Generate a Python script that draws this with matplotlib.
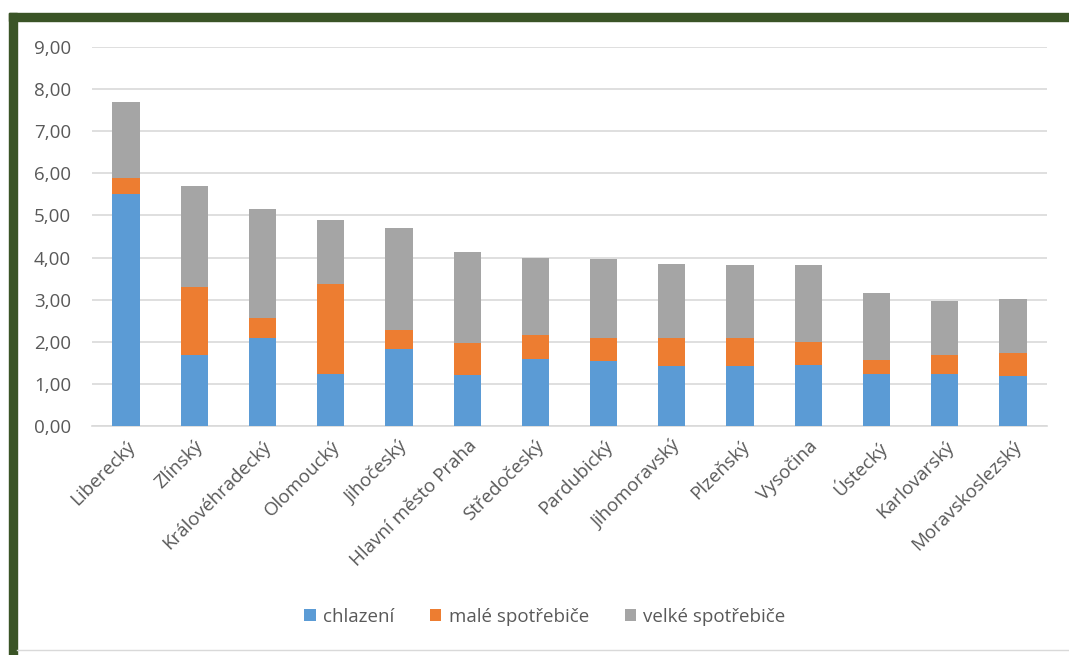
import numpy as np
import matplotlib
matplotlib.use("Agg")
import matplotlib.pyplot as plt
from matplotlib.patches import Rectangle
from matplotlib.ticker import FuncFormatter

# data
regions = ["Liberecký", "Zlínský", "Královéhradecký", "Olomoucký", "Jihočeský",
           "Hlavní město Praha", "Středočeský", "Pardubický", "Jihomoravský",
           "Plzeňský", "Vysočina", "Ústecký", "Karlovarský", "Moravskoslezský"]
chlazeni = [5.52, 1.68, 2.10, 1.24, 1.82, 1.20, 1.60, 1.54, 1.43, 1.43, 1.46, 1.24, 1.24, 1.19]
male = [0.36, 1.61, 0.47, 2.14, 0.45, 0.76, 0.55, 0.56, 0.67, 0.67, 0.53, 0.33, 0.44, 0.54]
velke = [1.81, 2.42, 2.59, 1.50, 2.44, 2.17, 1.83, 1.86, 1.75, 1.72, 1.83, 1.58, 1.30, 1.29]
series_names = ["chlazení", "malé spotřebiče", "velké spotřebiče"]
colors = ["#5B9BD5", "#ED7D31", "#A5A5A5"]
text_col = "#595959"

plt.rcParams['font.family'] = ['Open Sans', 'DejaVu Sans']

fig = plt.figure(figsize=(10.69, 6.55), dpi=100)
# dark green frame on top and left
fig.patches.append(Rectangle((9/1069, 0), 8/1069, 1 - 13/655, transform=fig.transFigure,
                             color="#3A5426", zorder=0))
fig.patches.append(Rectangle((9/1069, 1 - 21/655), 1, 8/655, transform=fig.transFigure,
                             color="#3A5426", zorder=0))

ax = fig.add_axes([92/1069, 1 - 426/655, (1047 - 92)/1069, (426 - 47)/655])

x = np.arange(len(regions))
w = 0.4
bottom = np.zeros(len(regions))
for vals, name, c in zip([chlazeni, male, velke], series_names, colors):
    ax.bar(x, vals, w, bottom=bottom, color=c, label=name, zorder=3)
    bottom += np.array(vals)

ax.set_xlim(-0.5, len(regions) - 0.5)
ax.set_ylim(0, 9)
ax.set_yticks(np.arange(0, 10, 1))
ax.yaxis.set_major_formatter(FuncFormatter(lambda v, p: f"{v:.2f}".replace(".", ",")))
ax.grid(axis="y", color="#D9D9D9", linewidth=1.2, zorder=0)
for s in ["top", "right", "left"]:
    ax.spines[s].set_visible(False)
ax.spines["bottom"].set_color("#D9D9D9")
ax.spines["bottom"].set_linewidth(1.2)
ax.tick_params(axis="both", length=0, colors=text_col, labelsize=13.5)
ax.tick_params(axis="y", pad=15)
ax.set_xticks(x)
ax.set_xticklabels(regions, rotation=45, ha="right", rotation_mode="anchor")
ax.tick_params(axis="x", pad=8)

leg = fig.legend(loc="center", bbox_to_anchor=(545/1069, 1 - 617/655), ncol=3, frameon=False,
                 fontsize=13.5, handlelength=0.6, handleheight=0.6, handletextpad=0.4,
                 columnspacing=1.9)
for t in leg.get_texts():
    t.set_color(text_col)

# faint bottom line of the chart area
fig.add_artist(plt.Line2D([17/1069, 1], [1 - 650/655, 1 - 650/655], color="#D9D9D9", lw=1))

fig.savefig("out.png", dpi=100)
